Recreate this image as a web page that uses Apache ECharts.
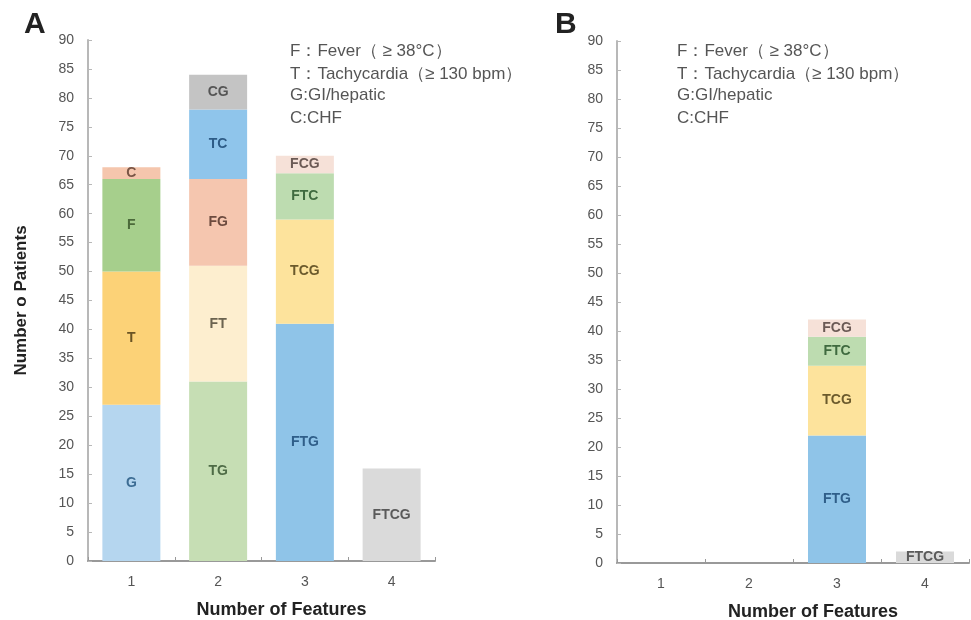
<!DOCTYPE html>
<html><head><meta charset="utf-8">
<script src="https://cdn.jsdelivr.net/npm/echarts@6/dist/echarts.min.js"></script>
<style>html,body{margin:0;padding:0;background:#fff}#c{width:971px;height:620px}</style>
</head><body><div id="c"></div>
<script>
const categories = ['1', '2', '3', '4'];
const yMin = 0, yMax = 90, yInterval = 5;

// Panel A segments (stack order bottom to top within each category)
const aNames = ['G', 'T', 'F', 'C', 'TG', 'FT', 'FG', 'TC', 'CG', 'FTG', 'TCG', 'FTC', 'FCG', 'FTCG'];
const aValues = [27, 23, 16, 2, 31, 20, 15, 12, 6, 41, 18, 8, 3, 16];
const aCategory = [0, 0, 0, 0, 1, 1, 1, 1, 1, 2, 2, 2, 2, 3];

// Panel B segments
const bNames = ['FTG', 'TCG', 'FTC', 'FCG', 'FTCG'];
const bValues = [22, 12, 5, 3, 2];
const bCategory = [2, 2, 2, 2, 3];

const legendLines = ['F：Fever（ ≥ 38°C）', 'T：Tachycardia（≥ 130 bpm）', 'G:GI/hepatic', 'C:CHF'];

const fillColor = {
  G: '#b5d6ef', T: '#fcd277', F: '#a6cf8c', C: '#f5c6ad',
  TG: '#c6deb4', FT: '#fdeecf', FG: '#f5c6af', TC: '#8fc5eb', CG: '#c4c4c4',
  FTG: '#8fc4e8', TCG: '#fde39c', FTC: '#bddcb0', FCG: '#f6e1d8', FTCG: '#dadada'
};
const labelColor = {
  G: '#3c6c93', T: '#6a5424', F: '#4b6a3a', C: '#7a5646',
  TG: '#4e6b46', FT: '#6b6350', FG: '#6c4b3f', TC: '#2e5c86', CG: '#555555',
  FTG: '#2f5e89', TCG: '#6b5a2c', FTC: '#3f6a3f', FCG: '#6b5a55', FTCG: '#5a5a5a'
};

const FONT = 'Liberation Sans, Arial, Helvetica, sans-serif';

function buildSeries(names, values, cats, axisIdx, stackId) {
  return names.map((n, k) => ({
    name: n + '_' + stackId,
    type: 'bar',
    stack: stackId,
    xAxisIndex: axisIdx,
    yAxisIndex: axisIdx,
    barWidth: 58,
    data: categories.map((c, i) => (i === cats[k] ? values[k] : '-')),
    itemStyle: { color: fillColor[n] },
    label: {
      show: true, position: 'inside', formatter: n,
      fontFamily: FONT, fontSize: 14, fontWeight: 'bold', color: labelColor[n]
    },
    emphasis: { disabled: true }
  }));
}

function xAxisCfg(gridIndex) {
  return {
    type: 'category', gridIndex, data: categories,
    axisLine: { lineStyle: { color: '#999', width: 2 } },
    axisTick: { show: true, inside: true, length: 4, lineStyle: { color: '#999' } },
    axisLabel: { color: '#555', fontSize: 14, fontFamily: FONT, margin: 14 },
    name: 'Number of Features', nameLocation: 'middle', nameGap: 40,
    nameTextStyle: { fontFamily: FONT, fontSize: 18, fontWeight: 'bold', color: '#222', padding: [0, 0, 0, 40] }
  };
}
function yAxisCfg(gridIndex, withName) {
  const cfg = {
    type: 'value', gridIndex, min: yMin, max: yMax, interval: yInterval,
    splitLine: { show: false },
    axisLine: { show: true, lineStyle: { color: '#b8b8b8', width: 2 } },
    axisTick: { show: true, inside: true, length: 4, lineStyle: { color: '#b8b8b8' } },
    axisLabel: { color: '#555', fontSize: 14, fontFamily: FONT, margin: 14 }
  };
  if (withName) {
    Object.assign(cfg, {
      name: 'Number o Patients', nameLocation: 'middle', nameGap: 58, nameRotate: 90,
      nameTextStyle: { fontFamily: FONT, fontSize: 17, fontWeight: 'bold', color: '#222' }
    });
  }
  return cfg;
}

function legendGraphics(x) {
  const ys = [53, 76, 97, 120];
  return legendLines.map((t, i) => ({
    type: 'text', left: x, top: ys[i] - 10,
    style: { text: t, fontFamily: FONT, fontSize: 17, fill: '#555' }
  }));
}

const chart = echarts.init(document.getElementById('c'));
chart.setOption({
  animation: false,
  grid: [
    { left: 88, right: 536, top: 40, bottom: 59, outerBoundsMode: 'none', containLabel: false },
    { left: 617, right: 2, top: 41, bottom: 57, outerBoundsMode: 'none', containLabel: false }
  ],
  xAxis: [xAxisCfg(0), xAxisCfg(1)],
  yAxis: [yAxisCfg(0, true), yAxisCfg(1, false)],
  series: buildSeries(aNames, aValues, aCategory, 0, 'A')
    .concat(buildSeries(bNames, bValues, bCategory, 1, 'B')),
  graphic: [
    { type: 'text', left: 24, top: 10, style: { text: 'A', fontFamily: FONT, fontSize: 30, fontWeight: 'bold', fill: '#222' } },
    { type: 'text', left: 555, top: 10, style: { text: 'B', fontFamily: FONT, fontSize: 30, fontWeight: 'bold', fill: '#222' } }
  ].concat(legendGraphics(290)).concat(legendGraphics(677))
});
</script></body></html>
